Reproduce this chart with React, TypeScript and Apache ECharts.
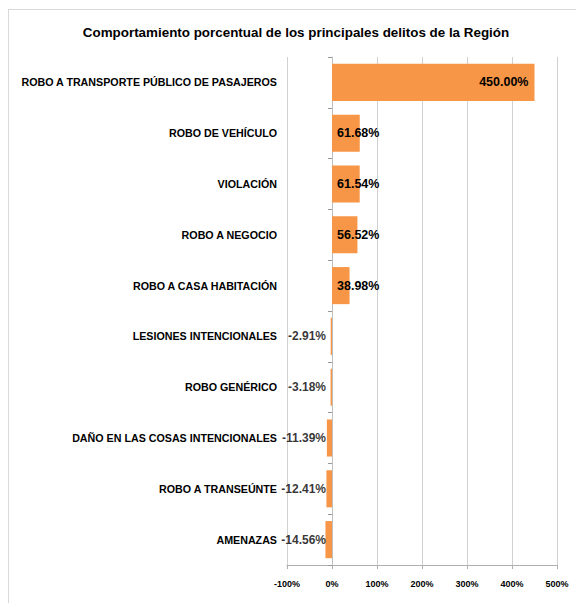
import React, { useEffect, useRef } from "react";
import * as echarts from "echarts";

const TITLE = "Comportamiento porcentual de los principales delitos de la Región";

const categories = [
  "ROBO A TRANSPORTE PÚBLICO DE PASAJEROS",
  "ROBO DE VEHÍCULO",
  "VIOLACIÓN",
  "ROBO A NEGOCIO",
  "ROBO A CASA HABITACIÓN",
  "LESIONES INTENCIONALES",
  "ROBO GENÉRICO",
  "DAÑO EN LAS COSAS INTENCIONALES",
  "ROBO A TRANSEÚNTE",
  "AMENAZAS",
];

const values = [450.0, 61.68, 61.54, 56.52, 38.98, -2.91, -3.18, -11.39, -12.41, -14.56];

const xTicks = [-100, 0, 100, 200, 300, 400, 500];

const FONT = '"Liberation Sans", Arial, sans-serif';
const BAR_COLOR = "#F79646";

const fmt = (v: number) => `${v.toFixed(2)}%`;

export default function App() {
  const ref = useRef<HTMLDivElement>(null);

  useEffect(() => {
    if (!ref.current) return;
    const chart = echarts.init(ref.current, undefined, { renderer: "svg" });

    const barData = values.map((v) => {
      if (v < 0) return { value: v, label: { show: false } };
      return {
        value: v,
        label: {
          show: true,
          position: v > 200 ? "insideRight" : "insideLeft",
          distance: v > 200 ? 6 : 5,
          formatter: fmt(v),
        },
      };
    });

    const negLabels = values
      .map((v, i) => ({ v, i }))
      .filter((d) => d.v < 0)
      .map((d) => ({
        value: [0, categories[d.i]],
        label: { formatter: fmt(d.v) },
      }));

    chart.setOption({
      animation: false,
      backgroundColor: "#ffffff",
      graphic: [
        {
          type: "line",
          shape: { x1: 0.5, y1: 1, x2: 0.5, y2: 595 },
          style: { stroke: "#d9d9d9", lineWidth: 1 },
          silent: true,
        },
        {
          type: "line",
          shape: { x1: 0, y1: 1.5, x2: 568, y2: 1.5 },
          style: { stroke: "#d9d9d9", lineWidth: 1 },
          silent: true,
        },
        {
          type: "text",
          x: 288,
          y: 24,
          style: {
            text: TITLE,
            align: "center",
            verticalAlign: "middle",
            fontSize: 13.4,
            fontWeight: "bold",
            fontFamily: FONT,
            fill: "#000000",
          },
          silent: true,
        },
      ],
      grid: {
        left: 279,
        right: 19,
        top: 49,
        bottom: 38,
        containLabel: false,
        outerBoundsMode: "none",
      },
      xAxis: {
        type: "value",
        min: xTicks[0],
        max: xTicks[xTicks.length - 1],
        interval: 100,
        axisLine: { show: true, onZero: false, lineStyle: { color: "#b0b0b0", width: 1 } },
        axisTick: { show: true, length: 4, lineStyle: { color: "#b0b0b0" } },
        splitLine: { show: true, lineStyle: { color: "#d0d0d0", width: 1 } },
        axisLabel: {
          margin: 14,
          fontSize: 9,
          fontWeight: "bold",
          fontFamily: FONT,
          color: "#000000",
          formatter: (v: number) => `${v}%`,
        },
      },
      yAxis: {
        type: "category",
        data: categories,
        inverse: true,
        axisLine: { show: true, onZero: true, lineStyle: { color: "#bfbfbf", width: 1 } },
        axisTick: { show: true, length: 4, lineStyle: { color: "#999999" } },
        axisLabel: {
          margin: 10,
          fontSize: 10.7,
          fontWeight: "bold",
          fontFamily: FONT,
          color: "#000000",
        },
      },
      series: [
        {
          type: "bar",
          data: barData,
          barCategoryGap: "27%",
          itemStyle: { color: BAR_COLOR },
          label: {
            show: true,
            color: "#000000",
            fontSize: 12.5,
            fontWeight: "bold",
            fontFamily: FONT,
          },
          silent: true,
        },
        {
          type: "scatter",
          symbolSize: 0,
          data: negLabels,
          label: {
            show: true,
            position: "left",
            distance: 6,
            color: "#000000",
            fontSize: 12,
            fontWeight: "bold",
            fontFamily: FONT,
          },
          silent: true,
          z: 5,
        },
      ],
    });

    return () => chart.dispose();
  }, []);

  return (
    <div
      ref={ref}
      style={{ position: "absolute", left: 8, top: 8, width: 568, height: 595 }}
    />
  );
}
